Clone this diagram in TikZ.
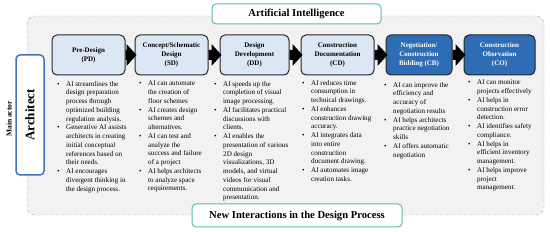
\documentclass[tikz,border=0pt]{standalone}
\usepackage{fontspec}
\setmainfont{Liberation Serif}
\usetikzlibrary{calc}
\definecolor{lightblue}{HTML}{DCE7F5}
\definecolor{darkblue}{HTML}{2E6CB5}
\definecolor{bggray}{HTML}{F2F2F2}
\definecolor{greenc}{HTML}{5CC28C}
\definecolor{archblue}{HTML}{4472C4}
\newcommand\bu{\llap{\textbullet\hspace{6.5pt}}}
\newcommand\stagearrow[2]{\fill let \p1=(#1.east), \p2=(#2.west) in (\x1,\y1+5pt) -- (\x2-8pt,\y1+5pt) -- (\x2-8pt,\y1+11pt) -- (\x2+2pt,\y1) -- (\x2-8pt,\y1-11pt) -- (\x2-8pt,\y1-5pt) -- (\x1,\y1-5pt) -- cycle;}
\begin{document}
\begin{tikzpicture}[x=1pt,y=-1pt,
  stage/.style={draw=black!85, line width=1pt, rounded corners=5pt, fill=lightblue,
    minimum height=40pt, align=center, inner sep=1pt,
    font=\bfseries\fontsize{7}{8.8}\selectfont},
  darkstage/.style={stage, fill=darkblue, text=white},
  bul/.style={anchor=north west, align=left, inner sep=0pt, font=\fontsize{7.1}{8.75}\selectfont},
  titlebox/.style={draw=greenc, line width=1pt, fill=white, rounded corners=4pt,
    font=\bfseries\fontsize{10.6}{12}\selectfont},
  archbox/.style={draw=archblue, line width=1.5pt, fill=white, rounded corners=4pt,
    font=\bfseries\fontsize{13}{15}\selectfont}
]
\useasboundingbox (0,0) rectangle (550,232);
\draw[dashed, draw=gray!70, fill=bggray, rounded corners=8pt] (27,16) rectangle (544,215);

\node[titlebox, minimum width=169pt, minimum height=20pt] (ai) at (296.5,14) {Artificial Intelligence};
\node[titlebox, minimum width=210pt, minimum height=23pt] (nid) at (297,215.5) {New Interactions in the Design Process};

\node[archbox, rotate=90, minimum width=120pt, minimum height=28pt] (arch) at (30,115) {Architect};
\node[rotate=90, font=\bfseries\fontsize{7.5}{9}\selectfont] (actor) at (9,119) {Main actor};

\node[stage, minimum width=73pt] (pd) at (88.5,55) {Pre-Design\\(PD)};
\node[stage, minimum width=73pt] (sd) at (171.5,55) {Concept/Schematic\\Design\\(SD)};
\node[stage, minimum width=69pt] (dd) at (254.5,55) {Design\\Development\\(DD)};
\node[stage, minimum width=73pt] (cd) at (337.5,55) {Construction\\Documentation\\(CD)};
\node[darkstage, minimum width=66pt] (cb) at (419,55) {Negotiation/\\Construction\\Bidding (CB)};
\node[darkstage, minimum width=71pt] (co) at (499.5,55) {Construction\\Obsrvation\\(CO)};

\stagearrow{pd}{sd}
\stagearrow{sd}{dd}
\stagearrow{dd}{cd}
\stagearrow{cd}{cb}
\stagearrow{cb}{co}

\node[bul] (t1) at (66,81) {\bu AI streamlines the\\design preparation\\process through\\optimized building\\regulation analysis.\\
\bu Generative AI assists\\architects in creating\\initial conceptual\\references based on\\their needs.\\
\bu AI encourages\\divergent thinking in\\the design process.};
\node[bul] (t2) at (148,81) {\bu AI can automate\\the creation of\\floor schemes\\
\bu AI creates design\\schemes and\\alternatives.\\
\bu AI can test and\\analyze the\\success and failure\\of a project\\
\bu AI helps architects\\to analyze space\\requirements.};
\node[bul] (t3) at (223,81) {\bu AI speeds up the\\completion of visual\\image processing.\\
\bu AI facilitates practical\\discussions with\\clients.\\
\bu AI enables the\\presentation of various\\2D design\\visualizations, 3D\\models, and virtual\\videos for visual\\communication and\\presentation.};
\node[bul] (t4) at (311,80) {\bu AI reduces time\\consumption in\\technical drawings.\\
\bu AI enhances\\construction drawing\\accuracy.\\
\bu AI integrates data\\into entire\\construction\\document drawing.\\
\bu AI automates image\\creation tasks.};
\node[bul] (t5) at (393,82) {\bu AI can improve the\\efficiency and\\accuracy of\\negotiation results\\
\bu AI helps architects\\practice negotiation\\skills\\
\bu AI offers automatic\\negotiation};
\node[bul] (t6) at (477,80) {\bu AI can monitor\\projects effectively\\
\bu AI helps in\\construction error\\detection.\\
\bu AI identifies safety\\compliance.\\
\bu AI helps in\\efficient inventory\\management.\\
\bu AI helps improve\\project\\management.};
\end{tikzpicture}
\end{document}
